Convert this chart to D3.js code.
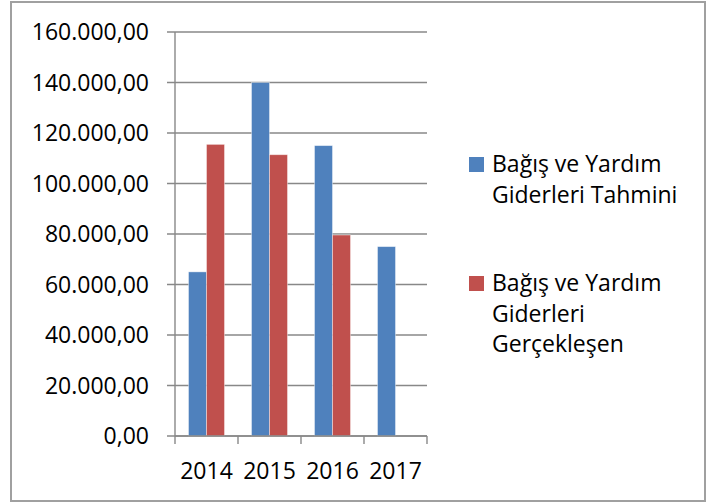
<!DOCTYPE html>
<html>
<head>
<meta charset="utf-8">
<script src="https://cdn.jsdelivr.net/npm/d3@7"></script>
<style>
  body { margin: 0; background: #fff; }
  text { font-family: "Open Sans", sans-serif; fill: #000; }
</style>
</head>
<body>
<svg id="chart" width="720" height="504"></svg>
<script>
var years = ["2014", "2015", "2016", "2017"];
var tahmini = [65000, 140000, 115000, 75000];
var gerceklesen = [115500, 111400, 79600, null];
var yTicks = [0, 20000, 40000, 60000, 80000, 100000, 120000, 140000, 160000];
var seriesNames = [
  ["Bağış ve Yardım", "Giderleri Tahmini"],
  ["Bağış ve Yardım", "Giderleri", "Gerçekleşen"]
];
var colors = ["#4f81bd", "#c0504d"];

var svg = d3.select("#chart");
var fmt = function(v) {
  return d3.format(",.2f")(v).replace(/,/g, "#").replace(".", ",").replace(/#/g, ".");
};

// outer frame
svg.append("rect")
  .attr("x", 11).attr("y", 2).attr("width", 694).attr("height", 499)
  .attr("fill", "none").attr("stroke", "#a0a0a0").attr("stroke-width", 2);

var pLeft = 175, pRight = 427, pTop = 32, pBottom = 436;

var x = d3.scaleBand().domain(years).range([pLeft, pRight]);
var y = d3.scaleLinear().domain([0, 160000]).range([pBottom, pTop]);

// gridlines
svg.append("g").selectAll("line").data(yTicks).enter().append("line")
  .attr("x1", pLeft - 8).attr("x2", pRight)
  .attr("y1", function(d) { return y(d); }).attr("y2", function(d) { return y(d); })
  .attr("stroke", "#888").attr("stroke-width", 1.4);

// y labels
svg.append("g").selectAll("text").data(yTicks).enter().append("text")
  .attr("x", 149).attr("y", function(d) { return y(d) + 8; })
  .attr("text-anchor", "end").style("font-size", "23px")
  .text(fmt);

// bars
var bw = x.bandwidth() * 2 / 7;
[tahmini, gerceklesen].forEach(function(vals, si) {
  var rows = vals.map(function(v, i) { return { year: years[i], value: v }; })
    .filter(function(r) { return r.value != null; });
  svg.append("g").selectAll("rect").data(rows).enter().append("rect")
    .attr("x", function(d) { return x(d.year) + x.bandwidth() * 1.5 / 7 + si * bw; })
    .attr("y", function(d) { return y(d.value); })
    .attr("width", bw)
    .attr("height", function(d) { return pBottom - y(d.value); })
    .attr("fill", colors[si])
    .attr("stroke", "#fff").attr("stroke-opacity", 0.5).attr("stroke-width", 0.8);
});

// axis lines
svg.append("line").attr("x1", pLeft).attr("x2", pLeft).attr("y1", pTop).attr("y2", pBottom)
  .attr("stroke", "#888").attr("stroke-width", 1.4);
svg.append("line").attr("x1", pLeft).attr("x2", pRight).attr("y1", pBottom).attr("y2", pBottom)
  .attr("stroke", "#888").attr("stroke-width", 1.4);
var xt = years.map(function(d) { return x(d); }).concat([pRight]);
svg.append("g").selectAll("line").data(xt).enter().append("line")
  .attr("x1", function(d) { return d; }).attr("x2", function(d) { return d; })
  .attr("y1", pBottom).attr("y2", pBottom + 8)
  .attr("stroke", "#888").attr("stroke-width", 1.4);

// x labels
svg.append("g").selectAll("text").data(years).enter().append("text")
  .attr("x", function(d) { return x(d) + x.bandwidth() / 2; })
  .attr("y", 479)
  .attr("text-anchor", "middle").style("font-size", "23px")
  .text(function(d) { return d; });

// legend
var legY = [157, 276];
seriesNames.forEach(function(lines, si) {
  var g = svg.append("g");
  g.append("rect").attr("x", 469).attr("y", legY[si]).attr("width", 15).attr("height", 15)
    .attr("fill", colors[si]);
  g.append("text").attr("x", 492).attr("y", legY[si] + 15).style("font-size", "23px")
    .selectAll("tspan").data(lines).enter().append("tspan")
    .attr("x", 492).attr("dy", function(d, i) { return i ? 30.5 : 0; })
    .text(function(d) { return d; });
});
</script>
</body>
</html>
